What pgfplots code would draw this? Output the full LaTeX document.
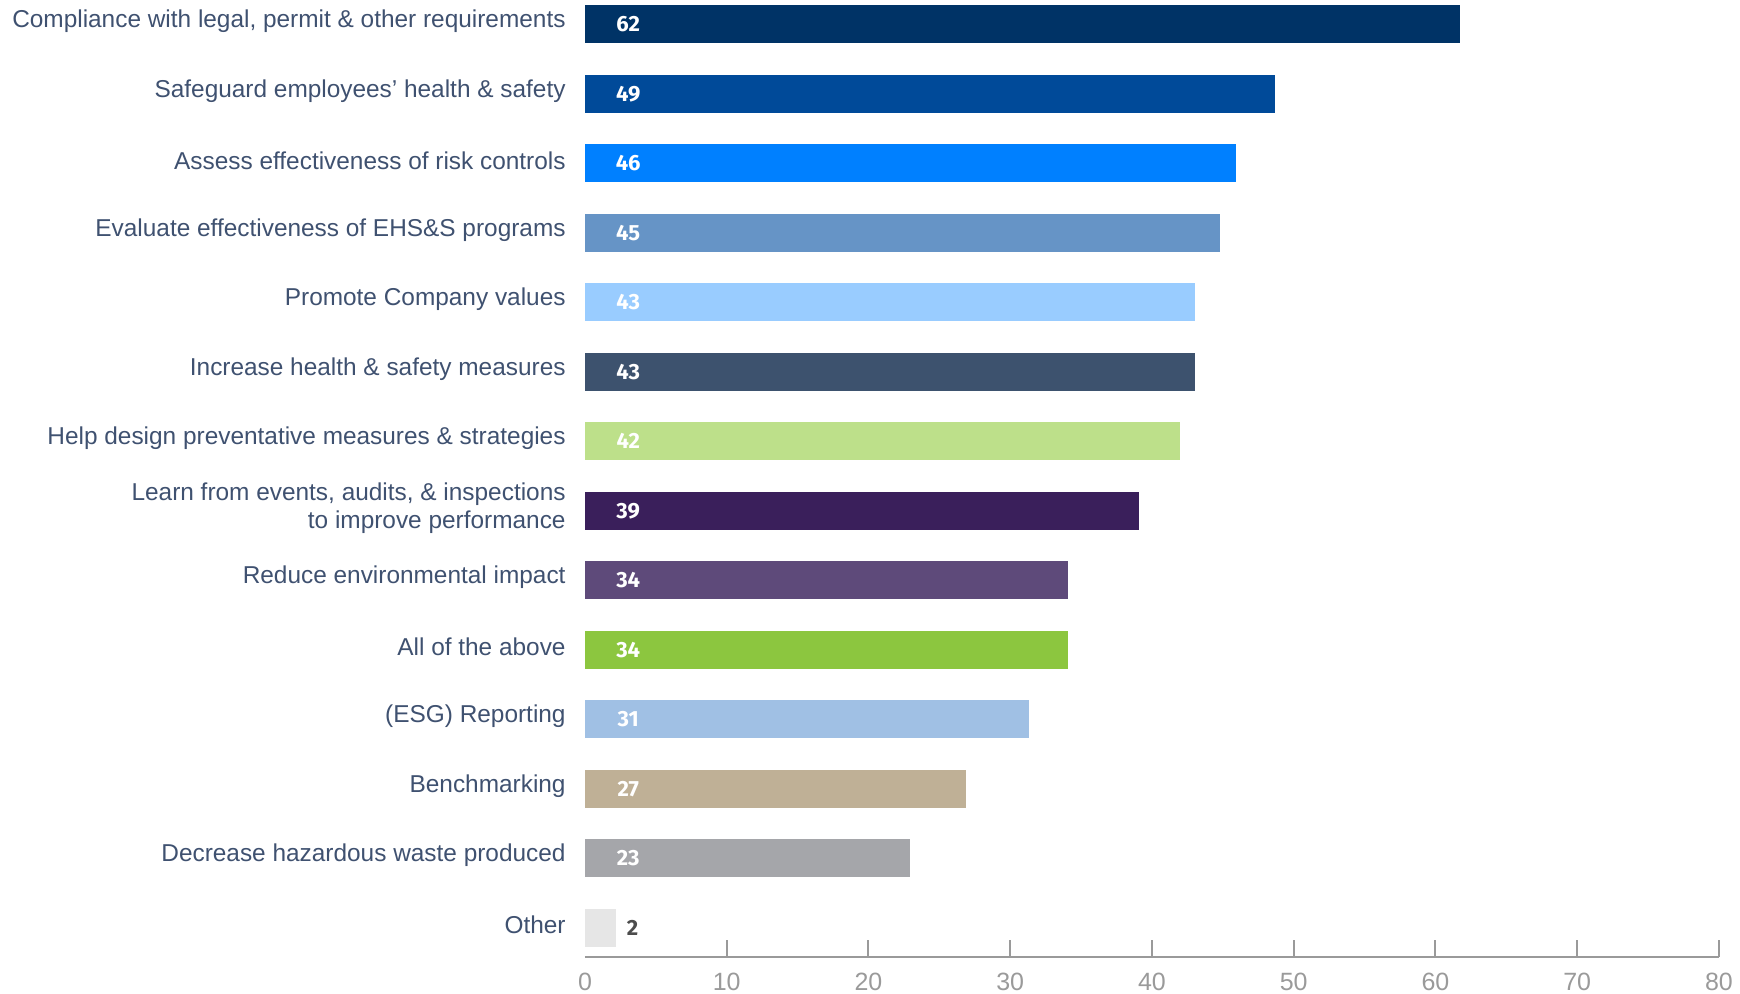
\documentclass[border=0pt]{standalone}
\usepackage{pgfplots}
\pgfplotsset{compat=1.18}
\usepackage{fontspec}
\setmainfont{Liberation Sans}
\newfontfamily\numfont{Fira Sans}
\definecolor{txt}{HTML}{3F5170}
\definecolor{tick}{HTML}{9A9A9A}
\definecolor{c1}{HTML}{003366}
\definecolor{c2}{HTML}{004A99}
\definecolor{c3}{HTML}{0080FF}
\definecolor{c4}{HTML}{6694C6}
\definecolor{c5}{HTML}{99CCFF}
\definecolor{c6}{HTML}{3D526E}
\definecolor{c7}{HTML}{BDE08A}
\definecolor{c8}{HTML}{3A1F5B}
\definecolor{c9}{HTML}{5E4A7A}
\definecolor{c10}{HTML}{8CC63F}
\definecolor{c11}{HTML}{A0C0E4}
\definecolor{c12}{HTML}{BFB096}
\definecolor{c13}{HTML}{A5A6AA}
\definecolor{c14}{HTML}{E6E6E6}
\begin{document}
\begin{tikzpicture}
\path[use as bounding box] (-292.5pt,-18.5pt) rectangle (577.5pt,478.5pt);
\begin{axis}[
  scale only axis,
  width=567pt, height=478.5pt,
  xmin=0, xmax=80, ymin=-0.42, ymax=13.35,
  xbar, bar width=19pt,
  axis x line*=bottom,
  axis y line*=left,
  x axis line style={draw=tick, line width=1.2pt, -},
  y axis line style={draw=none},
  xtick={10,20,...,80},
  extra x ticks={0},
  extra x tick style={major tick length=0pt},
  tick align=inside,
  major tick length=8.5pt,
  x tick style={draw=tick, line width=1pt},
  y tick style={draw=none},
  /pgf/number format/assume math mode=true,
  xticklabel style={font=\fontsize{12.5}{14}\selectfont, text=tick, anchor=north, yshift=-4.5pt},
  ytick={0,...,13},
  yticklabels={Other,Decrease hazardous waste produced,Benchmarking,(ESG) Reporting,All of the above,Reduce environmental impact,{Learn from events, audits, \& inspections\\to improve performance},Help design preventative measures \& strategies,Increase health \& safety measures,Promote Company values,Evaluate effectiveness of EHS\&S programs,Assess effectiveness of risk controls,Safeguard employees’ health \& safety,Compliance with legal{,} permit \& other requirements},
  yticklabel style={font=\fontsize{12.2}{14}\selectfont, text=txt, align=right, anchor=east, inner sep=0pt, xshift=-9.5pt, yshift=1.5pt},
  clip=false,
]
\addplot[fill=c1, draw=none, bar shift=0pt] coordinates {(61.7,13)};
\addplot[fill=c2, draw=none, bar shift=0pt] coordinates {(48.7,12)};
\addplot[fill=c3, draw=none, bar shift=0pt] coordinates {(45.9,11)};
\addplot[fill=c4, draw=none, bar shift=0pt] coordinates {(44.8,10)};
\addplot[fill=c5, draw=none, bar shift=0pt] coordinates {(43.0,9)};
\addplot[fill=c6, draw=none, bar shift=0pt] coordinates {(43.0,8)};
\addplot[fill=c7, draw=none, bar shift=0pt] coordinates {(42.0,7)};
\addplot[fill=c8, draw=none, bar shift=0pt] coordinates {(39.1,6)};
\addplot[fill=c9, draw=none, bar shift=0pt] coordinates {(34.1,5)};
\addplot[fill=c10, draw=none, bar shift=0pt] coordinates {(34.1,4)};
\addplot[fill=c11, draw=none, bar shift=0pt] coordinates {(31.3,3)};
\addplot[fill=c12, draw=none, bar shift=0pt] coordinates {(26.9,2)};
\addplot[fill=c13, draw=none, bar shift=0pt] coordinates {(22.9,1)};
\addplot[fill=c14, draw=none, bar shift=0pt] coordinates {(2.2,0)};
\addplot[sharp plot, draw=none, mark=none, point meta=explicit symbolic,
  nodes near coords,
  every node near coord/.style={anchor=center, text=white, font=\numfont\bfseries\fontsize{11}{12}\selectfont}]
  coordinates {(3.05,13)[62] (3.05,12)[49] (3.05,11)[46] (3.05,10)[45] (3.05,9)[43] (3.05,8)[43] (3.05,7)[42] (3.05,6)[39] (3.05,5)[34] (3.05,4)[34] (3.05,3)[31] (3.05,2)[27] (3.05,1)[23]};
\addplot[sharp plot, draw=none, mark=none, point meta=explicit symbolic,
  nodes near coords,
  every node near coord/.style={anchor=center, text=black!70, font=\numfont\bfseries\fontsize{11}{12}\selectfont}]
  coordinates {(3.35,0)[2]};
\end{axis}
\end{tikzpicture}
\end{document}
